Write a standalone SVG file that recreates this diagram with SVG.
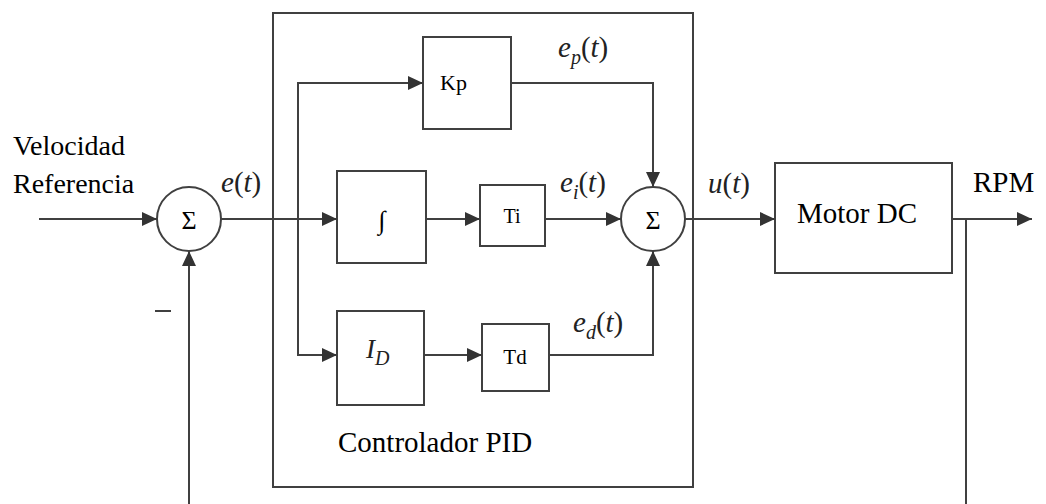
<svg xmlns="http://www.w3.org/2000/svg" width="1046" height="504" viewBox="0 0 1046 504" font-family="Liberation Serif, serif">
<style>
.b{fill:#fff;stroke:#404040;stroke-width:2}
.w{fill:none;stroke:#404040;stroke-width:2}
.t{fill:#000;font-family:'Liberation Serif',serif}
.m{fill:#222;font-style:italic;font-family:'Liberation Serif',serif}
.n{font-style:normal}
</style>
<defs>
<marker id="a" markerUnits="userSpaceOnUse" markerWidth="16" markerHeight="16" refX="15" refY="8" orient="auto">
<path d="M0,1 L15,8 L0,15 z" fill="#333"/>
</marker>
</defs>
<rect width="1046" height="504" fill="#fff"/>
<g id="pid-box"><rect class="b" x="273" y="13" width="420" height="474"/><text class="t" x="338" y="452" font-size="29">Controlador PID</text></g>
<g id="sum1"><circle class="b" cx="189" cy="219" r="32"/><text class="t" x="189" y="229" font-size="26" text-anchor="middle">Σ</text></g>
<g id="kp"><rect class="b" x="423" y="37" width="88" height="92"/><text class="t" x="440" y="90" font-size="22">Kp</text></g>
<g id="int"><rect class="b" x="337" y="171" width="89" height="92"/><text class="t" x="382" y="229" font-size="26" text-anchor="middle">∫</text></g>
<g id="ti"><rect class="b" x="480" y="185" width="65" height="61"/><text class="t" x="512" y="223" font-size="20" text-anchor="middle">Ti</text></g>
<g id="id"><rect class="b" x="337" y="311" width="87" height="94"/><text class="m" x="366" y="358" font-size="27">I<tspan font-size="20" dy="7">D</tspan></text></g>
<g id="td"><rect class="b" x="482" y="324" width="67" height="67"/><text class="t" x="515" y="364" font-size="21" text-anchor="middle">Td</text></g>
<g id="sum2"><circle class="b" cx="653" cy="219" r="32"/><text class="t" x="653" y="229" font-size="26" text-anchor="middle">Σ</text></g>
<g id="motor"><rect class="b" x="775" y="163" width="177" height="110"/><text class="t" x="857" y="223" font-size="29" text-anchor="middle">Motor DC</text></g>
<g id="connectors">
<line class="w" x1="39" y1="219" x2="157" y2="219" marker-end="url(#a)"/>
<line class="w" x1="221" y1="219" x2="337" y2="219" marker-end="url(#a)"/>
<polyline class="w" points="298,219 298,83 423,83" marker-end="url(#a)"/>
<polyline class="w" points="298,219 298,355 337,355" marker-end="url(#a)"/>
<line class="w" x1="426" y1="219" x2="480" y2="219" marker-end="url(#a)"/>
<line class="w" x1="424" y1="355" x2="482" y2="355" marker-end="url(#a)"/>
<polyline class="w" points="511,83 653,83 653,187" marker-end="url(#a)"/>
<line class="w" x1="545" y1="219" x2="621" y2="219" marker-end="url(#a)"/>
<polyline class="w" points="549,355 653,355 653,251" marker-end="url(#a)"/>
<line class="w" x1="685" y1="219" x2="775" y2="219" marker-end="url(#a)"/>
<line class="w" x1="952" y1="219" x2="1032" y2="219" marker-end="url(#a)"/>
<line class="w" x1="966" y1="219" x2="966" y2="504"/>
<line class="w" x1="189" y1="504" x2="189" y2="251" marker-end="url(#a)"/>
</g>
<g id="labels">
<text class="t" x="13" y="155" font-size="28">Velocidad</text>
<text class="t" x="13" y="193" font-size="28">Referencia</text>
<text class="m" x="221" y="192" font-size="29">e<tspan class="n">(</tspan>t<tspan class="n">)</tspan></text>
<text class="m" x="558" y="57" font-size="29">e<tspan font-size="20" dy="7">p</tspan><tspan class="n" dy="-7">(</tspan>t<tspan class="n">)</tspan></text>
<text class="m" x="560" y="192" font-size="29">e<tspan font-size="20" dy="7">i</tspan><tspan class="n" dy="-7">(</tspan>t<tspan class="n">)</tspan></text>
<text class="m" x="573" y="332" font-size="29">e<tspan font-size="20" dy="7">d</tspan><tspan class="n" dy="-7">(</tspan>t<tspan class="n">)</tspan></text>
<text class="m" x="708" y="193" font-size="29">u<tspan class="n">(</tspan>t<tspan class="n">)</tspan></text>
<text class="t" x="973" y="192" font-size="29">RPM</text>
<line x1="155" y1="311" x2="171" y2="311" stroke="#404040" stroke-width="2"/>
</g>
</svg>
